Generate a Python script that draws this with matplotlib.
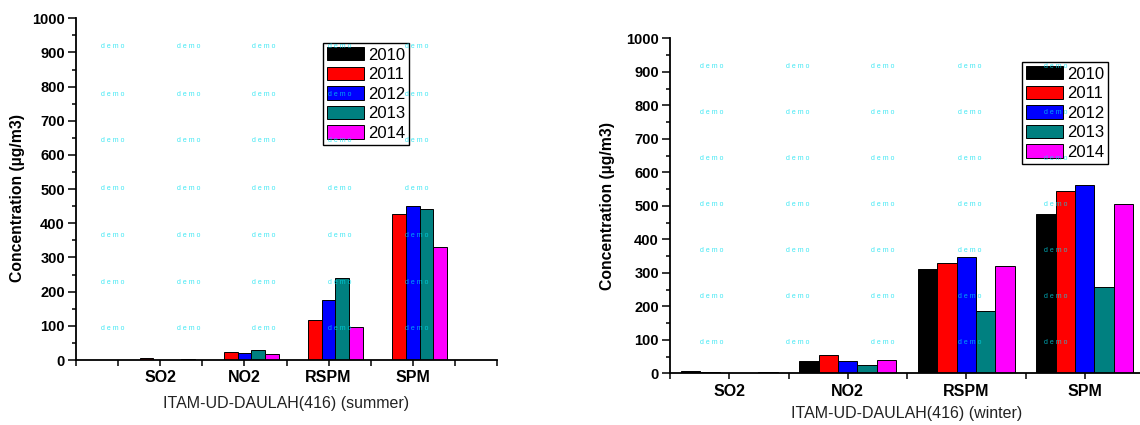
import numpy as np
import matplotlib
matplotlib.use("Agg")
import matplotlib.pyplot as plt

plt.rcParams['font.family'] = ['Liberation Sans', 'DejaVu Sans']

pollutants = ['SO2', 'NO2', 'RSPM', 'SPM']
years = ['2010', '2011', '2012', '2013', '2014']
colors = ['#000000', '#ff0000', '#0000ff', '#008080', '#ff00ff']

# values per year, order SO2, NO2, RSPM, SPM
summer_2010 = [0, 0, 0, 0]
summer_2011 = [5, 24, 118, 426]
summer_2012 = [0, 20, 176, 451]
summer_2013 = [0, 29, 241, 441]
summer_2014 = [4, 17, 96, 332]

winter_2010 = [7, 37, 310, 476]
winter_2011 = [5, 55, 330, 545]
winter_2012 = [0, 38, 346, 562]
winter_2013 = [0, 26, 185, 259]
winter_2014 = [5, 39, 321, 504]

summer = [summer_2010, summer_2011, summer_2012, summer_2013, summer_2014]
winter = [winter_2010, winter_2011, winter_2012, winter_2013, winter_2014]

W, H = 1140, 425
fig = plt.figure(figsize=(W / 100, H / 100), dpi=100)


def px_axes(x0, x1, y_top, y_bot):
    return fig.add_axes([x0 / W, 1 - y_bot / H, (x1 - x0) / W, (y_bot - y_top) / H])


def draw(ax, data, xlim, xlabel, ylab_xy, xlab_xy, legend_box):
    x = np.arange(1, len(pollutants) + 1)
    w = 0.163
    for j, (vals, c) in enumerate(zip(data, colors)):
        ax.bar(x + (j - 2) * w, vals, width=w, color=c, edgecolor='black',
               linewidth=0.7, label=years[j], zorder=2)
    ax.set_xlim(*xlim)
    ax.set_ylim(0, 1000)
    ax.set_yticks(np.arange(0, 1001, 100))
    ax.set_yticks(np.arange(50, 1000, 100), minor=True)
    ax.set_xticks(x)
    ax.set_xticks(np.arange(xlim[0], xlim[1] + 0.01, 0.5), minor=True)
    ax.set_xticklabels(pollutants, fontsize=11.5, fontweight='bold')
    for lab in ax.get_yticklabels():
        lab.set_fontweight('bold')
        lab.set_fontsize(10.5)
    ax.tick_params(axis='y', which='major', direction='out', length=6, width=1.1, pad=2)
    ax.tick_params(axis='y', which='minor', direction='out', length=2.8, width=1.1)
    ax.tick_params(axis='x', which='major', direction='out', length=4.5, width=1.1, pad=3)
    ax.tick_params(axis='x', which='minor', direction='out', length=4.5, width=1.1)
    for s in ['top', 'right']:
        ax.spines[s].set_visible(False)
    for s in ['left', 'bottom']:
        ax.spines[s].set_linewidth(1.3)
    ax.set_ylabel('Concentration (µg/m3)', fontsize=11.3, fontweight='bold')
    ax.yaxis.set_label_coords(*ylab_xy)
    ax.set_xlabel(xlabel, fontsize=11.5, color='#222222')
    ax.xaxis.set_label_coords(*xlab_xy)
    leg = ax.legend(loc='upper left', bbox_to_anchor=legend_box,
                    bbox_transform=fig.transFigure, frameon=True, fancybox=False,
                    edgecolor='black', framealpha=1, fontsize=12,
                    handlelength=2.2, handleheight=0.85, handletextpad=0.25,
                    labelspacing=0.25, borderpad=0.25, borderaxespad=0)
    leg.get_frame().set_linewidth(1.0)


ax1 = px_axes(76, 497, 18.3, 360)
draw(ax1, summer, (0, 5), 'ITAM-UD-DAULAH(416) (summer)',
     (-0.121, 0.474), (0.5, -0.105), (323 / W, 1 - 43 / H))

ax2 = px_axes(670, 1144, 38.3, 373.3)
draw(ax2, winter, (0.5, 4.5), 'ITAM-UD-DAULAH(416) (winter)',
     (-0.116, 0.5), (0.5, -0.098), (1022 / W, 1 - 62 / H))

# watermark grid
wm_summer_x = [113, 189, 264, 340, 417]
wm_summer_y = [47, 94, 141, 188, 235, 282, 329]
wm_winter_x = [712, 798, 883, 970, 1056]
wm_winter_y = [66, 112, 158, 204, 250, 296, 342]
for xs, ys in [(wm_summer_x, wm_summer_y), (wm_winter_x, wm_winter_y)]:
    for yy in ys:
        for xx in xs:
            fig.text(xx / W, 1 - yy / H, 'd e m o', fontsize=5, color='#00e0f0',
                     alpha=0.75, ha='center', va='center', zorder=10)

fig.savefig('out.png', dpi=100)
